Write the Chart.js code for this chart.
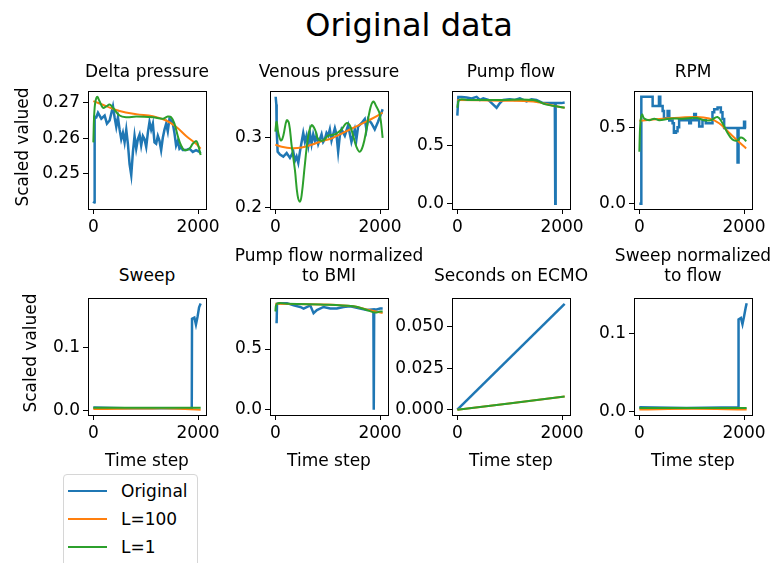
<!DOCTYPE html>
<html lang="en">

<head>
    <meta charset="UTF-8">
    <script src="https://cdn.jsdelivr.net/npm/chart.js"></script>
    <title>Original data</title>
    <style>
        body { margin: 0; width: 772px; height: 563px; background: #fff; position: relative; overflow: hidden; font-family: "DejaVu Sans", sans-serif; color: #000; }
        canvas { position: absolute; }
        .txt { position: absolute; text-align: center; white-space: nowrap; font-size: 17px; line-height: 20px; }
        .ylab { position: absolute; font-size: 17px; line-height: 20px; white-space: nowrap; transform: translate(-50%, -50%) rotate(-90deg); }
        #legend { position: absolute; left: 63px; top: 474px; width: 133px; height: 110px; border: 1px solid #d6d6d6; border-radius: 4px; background: #fff; }
        .item { position: absolute; left: 4px; height: 20px; font-size: 17px; line-height: 20px; }
        .item span { position: absolute; left: 0; top: 9px; width: 39px; height: 2px; }
        .item b { position: absolute; left: 53px; top: 0; font-weight: normal; }
    </style>
</head>

<body>
    <div class="txt" style="left:259px; width:300px; top:6px; font-size:32px; line-height:38px;">Original data</div>
    <div id="legend">
        <div class="item" style="top:6px"><span style="background:#1f77b4"></span><b>Original</b></div>
        <div class="item" style="top:34px"><span style="background:#ff7f0e"></span><b>L=100</b></div>
        <div class="item" style="top:62px"><span style="background:#2ca02c"></span><b>L=1</b></div>
    </div>
    <script>
        const timeTicks = ["0", "2000"];

        // Delta pressure
        const deltaOrigX = [0, 15, 25, 57, 89, 152, 216, 260, 311, 375, 406, 438, 470, 502, 533, 565, 597, 629, 660, 692, 724, 756, 787, 819, 851, 883, 914, 946, 978, 1010, 1041, 1073, 1105, 1137, 1168, 1200, 1232, 1264, 1295, 1327, 1359, 1391, 1422, 1454, 1486, 1518, 1549, 1581, 1613, 1645, 1676, 1708, 1772, 1835, 1899, 1962, 2026, 2050];
        const deltaOrig = [0.2415, 0.2418, 0.2660, 0.2659, 0.2672, 0.2655, 0.2664, 0.2641, 0.2650, 0.2690, 0.2659, 0.2632, 0.2659, 0.2624, 0.2597, 0.2615, 0.2588, 0.2624, 0.2584, 0.2526, 0.2495, 0.2561, 0.2606, 0.2570, 0.2597, 0.2610, 0.2579, 0.2606, 0.2597, 0.2575, 0.2615, 0.2646, 0.2624, 0.2641, 0.2588, 0.2584, 0.2606, 0.2592, 0.2566, 0.2601, 0.2624, 0.2641, 0.2619, 0.2655, 0.2650, 0.2641, 0.2615, 0.2579, 0.2592, 0.2570, 0.2575, 0.2566, 0.2566, 0.2570, 0.2561, 0.2566, 0.2561, 0.2557];
        const deltaL100X = [0, 254, 502, 819, 1137, 1391, 1581, 1772, 1962, 2050];
        const deltaL100 = [0.2705, 0.2690, 0.2677, 0.2668, 0.2662, 0.2650, 0.2632, 0.2606, 0.2584, 0.2570];
        const deltaL1X = [0, 25, 70, 121, 184, 248, 311, 375, 502, 629, 819, 1137, 1327, 1422, 1486, 1549, 1613, 1676, 1740, 1835, 1899, 1962, 1994, 2050];
        const deltaL1 = [0.2588, 0.2686, 0.2717, 0.2704, 0.2686, 0.2690, 0.2695, 0.2686, 0.2664, 0.2659, 0.2661, 0.2659, 0.2655, 0.2661, 0.2659, 0.2641, 0.2606, 0.2579, 0.2566, 0.2570, 0.2584, 0.2592, 0.2584, 0.2552];
        const deltaTicks = ["0.25", "0.26", "0.27"];

        // Venous pressure
        const venousOrigX = [6, 19, 25, 44, 89, 152, 216, 279, 343, 375, 406, 438, 470, 502, 533, 565, 597, 629, 660, 692, 724, 756, 787, 819, 851, 883, 914, 946, 978, 1010, 1041, 1073, 1137, 1168, 1200, 1232, 1264, 1327, 1391, 1454, 1518, 1549, 1581, 1645, 1708, 1740, 1772, 1835, 1899, 1962, 2026, 2050];
        const venousOrig = [0.359, 0.348, 0.312, 0.280, 0.276, 0.273, 0.278, 0.271, 0.280, 0.267, 0.273, 0.264, 0.280, 0.294, 0.307, 0.294, 0.303, 0.289, 0.307, 0.291, 0.305, 0.296, 0.303, 0.291, 0.298, 0.305, 0.294, 0.298, 0.307, 0.303, 0.312, 0.296, 0.314, 0.305, 0.280, 0.303, 0.312, 0.303, 0.318, 0.294, 0.312, 0.298, 0.316, 0.321, 0.327, 0.312, 0.327, 0.321, 0.312, 0.323, 0.336, 0.341];
        const venousL100X = [0, 121, 311, 502, 692, 883, 1073, 1264, 1454, 1645, 1835, 2050];
        const venousL100 = [0.290, 0.287, 0.285, 0.286, 0.290, 0.295, 0.299, 0.306, 0.313, 0.320, 0.327, 0.336];
        const venousL1X = [0, 25, 57, 108, 152, 216, 260, 311, 375, 425, 470, 502, 565, 629, 692, 756, 819, 914, 1010, 1137, 1264, 1359, 1422, 1486, 1549, 1613, 1676, 1740, 1803, 1867, 1930, 1994, 2050];
        const venousL1 = [0.309, 0.323, 0.307, 0.296, 0.303, 0.325, 0.321, 0.289, 0.253, 0.217, 0.208, 0.217, 0.262, 0.303, 0.318, 0.312, 0.298, 0.296, 0.303, 0.305, 0.312, 0.321, 0.318, 0.303, 0.287, 0.280, 0.289, 0.312, 0.339, 0.352, 0.345, 0.334, 0.300];
        const venousTicks = ["0.2", "0.3"];

        // Pump flow
        const flowOrigX = [0, 12, 19, 83, 178, 273, 368, 432, 495, 591, 686, 750, 813, 876, 1003, 1099, 1194, 1321, 1416, 1511, 1638, 1797, 1862, 1870, 1878, 1988, 2050];
        const flowOrig = [0.754, 0.754, 0.914, 0.914, 0.909, 0.901, 0.914, 0.888, 0.901, 0.888, 0.848, 0.821, 0.861, 0.888, 0.893, 0.888, 0.901, 0.875, 0.893, 0.888, 0.861, 0.861, 0.861, 0.0, 0.861, 0.861, 0.866];
        const flowL100X = [0, 813, 1448, 1892, 2050];
        const flowL100 = [0.888, 0.882, 0.874, 0.834, 0.821];
        const flowL1X = [0, 38, 191, 813, 1448, 1702, 1892, 2050];
        const flowL1 = [0.821, 0.888, 0.888, 0.888, 0.888, 0.848, 0.834, 0.821];
        const flowTicks = ["0.0", "0.5"];

        // RPM (stepped)
        const rpmOrigX = [0, 38, 254, 375, 400, 445, 470, 540, 572, 635, 660, 700, 730, 760, 890, 953, 985, 1048, 1080, 1143, 1206, 1270, 1397, 1430, 1494, 1557, 1588, 1620, 1876, 1895, 2000, 2020, 2040];
        const rpmOrig = [0.0, 0.70, 0.64, 0.70, 0.64, 0.607, 0.56, 0.607, 0.545, 0.527, 0.465, 0.475, 0.50, 0.547, 0.547, 0.527, 0.547, 0.588, 0.547, 0.506, 0.547, 0.527, 0.599, 0.619, 0.630, 0.599, 0.555, 0.496, 0.27, 0.496, 0.537, 0.496, 0.496];
        const rpmL100X = [0, 445, 762, 1080, 1334, 1524, 1715, 1873, 2040];
        const rpmL100 = [0.543, 0.557, 0.563, 0.568, 0.558, 0.527, 0.465, 0.414, 0.362];
        const rpmL1X = [0, 19, 51, 95, 191, 286, 381, 572, 826, 1080, 1239, 1366, 1493, 1588, 1683, 1778, 1873, 1937, 2000, 2040];
        const rpmL1 = [0.340, 0.527, 0.584, 0.557, 0.547, 0.557, 0.547, 0.557, 0.557, 0.563, 0.547, 0.547, 0.568, 0.527, 0.465, 0.420, 0.414, 0.434, 0.424, 0.408];
        const rpmTicks = ["0.0", "0.5"];

        // Sweep
        const sweepOrigX = [0, 600, 1200, 1880, 1885, 1930, 1960, 1990, 2020, 2050];
        const sweepOrig = [0.005, 0.004, 0.004, 0.004, 0.145, 0.147, 0.136, 0.148, 0.163, 0.169];
        const sweepL100X = [0, 500, 1000, 1500, 2050];
        const sweepL100 = [0.0025, 0.0030, 0.0035, 0.0035, 0.0015];
        const sweepL1X = [0, 1000, 2050];
        const sweepL1 = [0.0045, 0.0045, 0.0045];
        const sweepTicks = ["0.0", "0.1"];

        // Pump flow normalized to BMI
        const bmiOrigX = [0, 25, 32, 95, 222, 349, 476, 540, 667, 730, 794, 921, 1048, 1175, 1302, 1429, 1619, 1746, 1873, 1880, 1888, 1937, 2000, 2050];
        const bmiOrig = [0.723, 0.723, 0.872, 0.877, 0.877, 0.859, 0.846, 0.833, 0.859, 0.795, 0.821, 0.846, 0.833, 0.833, 0.846, 0.851, 0.833, 0.821, 0.826, 0.0, 0.826, 0.826, 0.833, 0.833];
        const bmiL100X = [0, 857, 1492, 1746, 2050];
        const bmiL100 = [0.872, 0.867, 0.851, 0.826, 0.795];
        const bmiL1X = [0, 32, 222, 857, 1492, 1746, 1905, 2000, 2050];
        const bmiL1 = [0.808, 0.872, 0.872, 0.867, 0.851, 0.821, 0.800, 0.808, 0.808];
        const bmiTicks = ["0.0", "0.5"];

        // Seconds on ECMO
        const ecmoOrigX = [0, 2050];
        const ecmoOrig = [0.0, 0.0638];
        const ecmoL100X = [0, 2050];
        const ecmoL100 = [0.0, 0.0079];
        const ecmoL1X = [0, 2050];
        const ecmoL1 = [0.0, 0.0079];
        const ecmoTicks = ["0.000", "0.025", "0.050"];

        // Sweep normalized to flow
        const sweepNormOrigX = [0, 900, 1890, 1895, 1940, 1970, 2000, 2030, 2050];
        const sweepNormOrig = [0.005, 0.004, 0.005, 0.118, 0.120, 0.112, 0.122, 0.133, 0.139];
        const sweepNormL100X = [0, 1000, 2050];
        const sweepNormL100 = [0.002, 0.003, 0.002];
        const sweepNormL1X = [0, 2050];
        const sweepNormL1 = [0.004, 0.004];
        const sweepNormTicks = ["0.0", "0.1"];

        const colors = ["#1f77b4", "#ff7f0e", "#2ca02c"];
        const colLeft = [88, 270, 452, 634];
        const rowTop = [84, 291];
        const rowH = [125, 124];
        const boxW = 118;
        const padL = 70, padT = 6, padR = 30, axisH = 40;

        Chart.defaults.font.family = "DejaVu Sans";
        Chart.defaults.color = "#000";

        const frame = {
            id: "frame",
            afterDraw(chart) {
                const a = chart.chartArea;
                const c = chart.ctx;
                c.save();
                c.strokeStyle = "#000";
                c.lineWidth = 1;
                c.strokeRect(Math.round(a.left) + 0.5, Math.round(a.top) + 0.5, Math.round(a.right - a.left), Math.round(a.bottom - a.top));
                c.restore();
            }
        };

        function pts(xs, ys) {
            return xs.map((x, i) => ({ x: x, y: ys[i] }));
        }

        function fixedTicks(labels) {
            return function (scale) {
                scale.ticks = labels.map(l => ({ value: parseFloat(l) }));
            };
        }

        function addText(html, left, top, width) {
            const d = document.createElement("div");
            d.className = "txt";
            d.style.left = left + "px";
            d.style.top = top + "px";
            d.style.width = width + "px";
            d.innerHTML = html;
            document.body.appendChild(d);
        }

        function makePanel(p) {
            const left = colLeft[p.col], top = rowTop[p.row], h = rowH[p.row];
            const cv = document.createElement("canvas");
            cv.width = padL + boxW + padR;
            cv.height = padT + h + axisH;
            cv.style.left = (left - padL) + "px";
            cv.style.top = (top - padT) + "px";
            document.body.appendChild(cv);

            const stepped = p.stepped || false;
            const datasets = p.series.map((s, i) => ({
                data: pts(s[0], s[1]),
                borderColor: colors[i],
                borderWidth: i === 0 ? 2.5 : 2,
                pointRadius: 0,
                tension: i === 0 ? 0 : 0.4,
                stepped: i === 0 && stepped ? "before" : false,
                order: 3 - i
            }));

            new Chart(cv, {
                type: "line",
                data: { datasets: datasets },
                options: {
                    responsive: false,
                    animation: false,
                    layout: { padding: { left: 0, top: padT, right: padR, bottom: 0 } },
                    plugins: { legend: { display: false }, tooltip: { enabled: false } },
                    scales: {
                        x: {
                            type: "linear",
                            min: -102,
                            max: 2152,
                            bounds: "data",
                            afterBuildTicks: fixedTicks(timeTicks),
                            afterFit: s => { s.height = axisH; },
                            grid: { drawOnChartArea: false, drawTicks: true, tickLength: 5, color: "#000" },
                            border: { display: false },
                            ticks: { autoSkip: false, maxRotation: 0, padding: 3, font: { size: 17 }, callback: (v, i) => timeTicks[i] }
                        },
                        y: {
                            type: "linear",
                            min: p.yMin,
                            max: p.yMax,
                            bounds: "data",
                            afterBuildTicks: fixedTicks(p.yTicks),
                            afterFit: s => { s.width = padL; },
                            grid: { drawOnChartArea: false, drawTicks: true, tickLength: 5, color: "#000" },
                            border: { display: false },
                            ticks: { autoSkip: false, padding: 3, font: { size: 17 }, callback: (v, i) => p.yTicks[i] }
                        }
                    }
                },
                plugins: [frame]
            });

            const cx = left + boxW / 2;
            const lines = p.title.length;
            const tTop = p.row === 0 ? 61 : (lines === 1 ? 265 : 245);
            addText(p.title.join("<br>"), cx - 110, tTop, 220);
            if (p.row === 1) addText("Time step", cx - 60, 450, 120);
        }

        const panels = [
            { title: ["Delta pressure"], col: 0, row: 0, yMin: 0.2399, yMax: 0.2733, yTicks: deltaTicks,
              series: [[deltaOrigX, deltaOrig], [deltaL100X, deltaL100], [deltaL1X, deltaL1]] },
            { title: ["Venous pressure"], col: 1, row: 0, yMin: 0.1975, yMax: 0.367, yTicks: venousTicks,
              series: [[venousOrigX, venousOrig], [venousL100X, venousL100], [venousL1X, venousL1]] },
            { title: ["Pump flow"], col: 2, row: 0, yMin: -0.046, yMax: 0.963, yTicks: flowTicks,
              series: [[flowOrigX, flowOrig], [flowL100X, flowL100], [flowL1X, flowL1]] },
            { title: ["RPM"], col: 3, row: 0, yMin: -0.035, yMax: 0.737, yTicks: rpmTicks, stepped: true,
              series: [[rpmOrigX, rpmOrig], [rpmL100X, rpmL100], [rpmL1X, rpmL1]] },
            { title: ["Sweep"], col: 0, row: 1, yMin: -0.0068, yMax: 0.1775, yTicks: sweepTicks,
              series: [[sweepOrigX, sweepOrig], [sweepL100X, sweepL100], [sweepL1X, sweepL1]] },
            { title: ["Pump flow normalized", "to BMI"], col: 1, row: 1, yMin: -0.043, yMax: 0.918, yTicks: bmiTicks,
              series: [[bmiOrigX, bmiOrig], [bmiL100X, bmiL100], [bmiL1X, bmiL1]] },
            { title: ["Seconds on ECMO"], col: 2, row: 1, yMin: -0.0032, yMax: 0.0672, yTicks: ecmoTicks,
              series: [[ecmoOrigX, ecmoOrig], [ecmoL100X, ecmoL100], [ecmoL1X, ecmoL1]] },
            { title: ["Sweep normalized", "to flow"], col: 3, row: 1, yMin: -0.005, yMax: 0.1455, yTicks: sweepNormTicks,
              series: [[sweepNormOrigX, sweepNormOrig], [sweepNormL100X, sweepNormL100], [sweepNormL1X, sweepNormL1]] }
        ];

        panels.forEach(makePanel);

        // y axis labels
        [[22, 147], [30, 353]].forEach(pos => {
            const d = document.createElement("div");
            d.className = "ylab";
            d.style.left = pos[0] + "px";
            d.style.top = pos[1] + "px";
            d.textContent = "Scaled valued";
            document.body.appendChild(d);
        });
    </script>
</body>

</html>
